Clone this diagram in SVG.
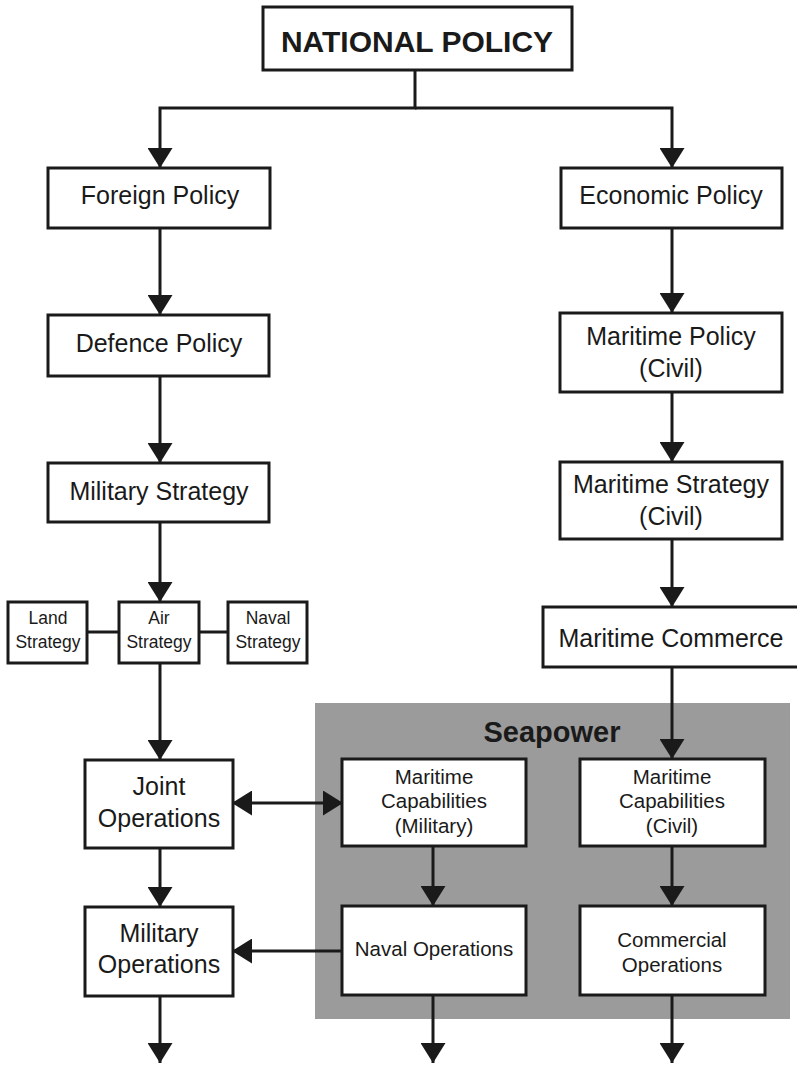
<svg xmlns="http://www.w3.org/2000/svg" width="797" height="1065" viewBox="0 0 797 1065">
<style>
.box{fill:#fff;stroke:#1a1a1a;stroke-width:3}
.t{font-family:"Liberation Sans",Arial,sans-serif;fill:#1a1a1a;text-anchor:middle}
.l{font-size:25px}
.m{font-size:20.5px}
.s{font-size:17.5px}
.b{font-weight:bold}
.c{fill:none;stroke:#1a1a1a;stroke-width:3}
</style>
<defs>
<marker id="ah" viewBox="0 0 20 25" refX="20" refY="12.5" markerWidth="20" markerHeight="25" markerUnits="userSpaceOnUse" orient="auto-start-reverse">
<path d="M0,0 L20,12.5 L0,25 z" fill="#1a1a1a"/>
</marker>
</defs>
<rect width="797" height="1065" fill="#fff"/>
<g id="seapower">
<rect x="315" y="703" width="475" height="316" fill="#9b9b9b"/>
<text class="t b" x="552" y="742" font-size="29">Seapower</text>
</g>
<g id="connectors">
<path class="c" d="M415,70 V108 H160 V168" marker-end="url(#ah)"/>
<path class="c" d="M415,108 H672 V168" marker-end="url(#ah)"/>
<path class="c" d="M160,228 V315" marker-end="url(#ah)"/>
<path class="c" d="M160,376 V463" marker-end="url(#ah)"/>
<path class="c" d="M160,522 V602" marker-end="url(#ah)"/>
<path class="c" d="M87,632 H119"/>
<path class="c" d="M199,632 H228"/>
<path class="c" d="M160,663 V760" marker-end="url(#ah)"/>
<path class="c" d="M160,848 V907" marker-end="url(#ah)"/>
<path class="c" d="M160,996 V1063" marker-end="url(#ah)"/>
<path class="c" d="M232,803 H343" marker-start="url(#ah)" marker-end="url(#ah)"/>
<path class="c" d="M342,951 H232" marker-end="url(#ah)"/>
<path class="c" d="M672,228 V313" marker-end="url(#ah)"/>
<path class="c" d="M672,392 V462" marker-end="url(#ah)"/>
<path class="c" d="M672,539 V607" marker-end="url(#ah)"/>
<path class="c" d="M672,667 V759" marker-end="url(#ah)"/>
<path class="c" d="M672,846 V906" marker-end="url(#ah)"/>
<path class="c" d="M672,995 V1063" marker-end="url(#ah)"/>
<path class="c" d="M433,846 V906" marker-end="url(#ah)"/>
<path class="c" d="M433,995 V1063" marker-end="url(#ah)"/>
</g>
<g id="national-policy">
<rect class="box" x="263" y="7" width="309" height="63"/>
<text class="t b" x="417" y="52" font-size="30">NATIONAL POLICY</text>
</g>
<g id="foreign-policy">
<rect class="box" x="48" y="168" width="222" height="60"/>
<text class="t l" x="160" y="204">Foreign Policy</text>
</g>
<g id="economic-policy">
<rect class="box" x="561" y="168" width="221" height="60"/>
<text class="t l" x="671" y="204">Economic Policy</text>
</g>
<g id="defence-policy">
<rect class="box" x="48" y="315" width="221" height="61"/>
<text class="t l" x="159" y="352">Defence Policy</text>
</g>
<g id="military-strategy">
<rect class="box" x="48" y="463" width="221" height="59"/>
<text class="t l" x="159" y="500">Military Strategy</text>
</g>
<g id="land-strategy">
<rect class="box" x="8" y="602" width="79" height="61"/>
<text class="t s" x="48" y="624">Land</text>
<text class="t s" x="48" y="648">Strategy</text>
</g>
<g id="air-strategy">
<rect class="box" x="119" y="602" width="80" height="61"/>
<text class="t s" x="159" y="624">Air</text>
<text class="t s" x="159" y="648">Strategy</text>
</g>
<g id="naval-strategy">
<rect class="box" x="228" y="602" width="79" height="61"/>
<text class="t s" x="268" y="624">Naval</text>
<text class="t s" x="268" y="648">Strategy</text>
</g>
<g id="joint-operations">
<rect class="box" x="85" y="760" width="148" height="88"/>
<text class="t l" x="159" y="795">Joint</text>
<text class="t l" x="159" y="827">Operations</text>
</g>
<g id="military-operations">
<rect class="box" x="85" y="907" width="148" height="89"/>
<text class="t l" x="159" y="942">Military</text>
<text class="t l" x="159" y="973">Operations</text>
</g>
<g id="maritime-policy">
<rect class="box" x="560" y="313" width="222" height="79"/>
<text class="t l" x="671" y="345">Maritime Policy</text>
<text class="t l" x="671" y="377">(Civil)</text>
</g>
<g id="maritime-strategy">
<rect class="box" x="560" y="462" width="222" height="77"/>
<text class="t l" x="671" y="493">Maritime Strategy</text>
<text class="t l" x="671" y="525">(Civil)</text>
</g>
<g id="maritime-commerce">
<rect class="box" x="543" y="607" width="260" height="60"/>
<text class="t l" x="671" y="647">Maritime Commerce</text>
</g>
<g id="maritime-capabilities-military">
<rect class="box" x="342" y="759" width="184" height="87"/>
<text class="t m" x="434" y="784">Maritime</text>
<text class="t m" x="434" y="808">Capabilities</text>
<text class="t m" x="434" y="833">(Military)</text>
</g>
<g id="maritime-capabilities-civil">
<rect class="box" x="580" y="759" width="185" height="87"/>
<text class="t m" x="672" y="784">Maritime</text>
<text class="t m" x="672" y="808">Capabilities</text>
<text class="t m" x="672" y="833">(Civil)</text>
</g>
<g id="naval-operations">
<rect class="box" x="342" y="906" width="184" height="89"/>
<text class="t m" x="434" y="956">Naval Operations</text>
</g>
<g id="commercial-operations">
<rect class="box" x="580" y="906" width="185" height="89"/>
<text class="t m" x="672" y="947">Commercial</text>
<text class="t m" x="672" y="972">Operations</text>
</g>
</svg>
